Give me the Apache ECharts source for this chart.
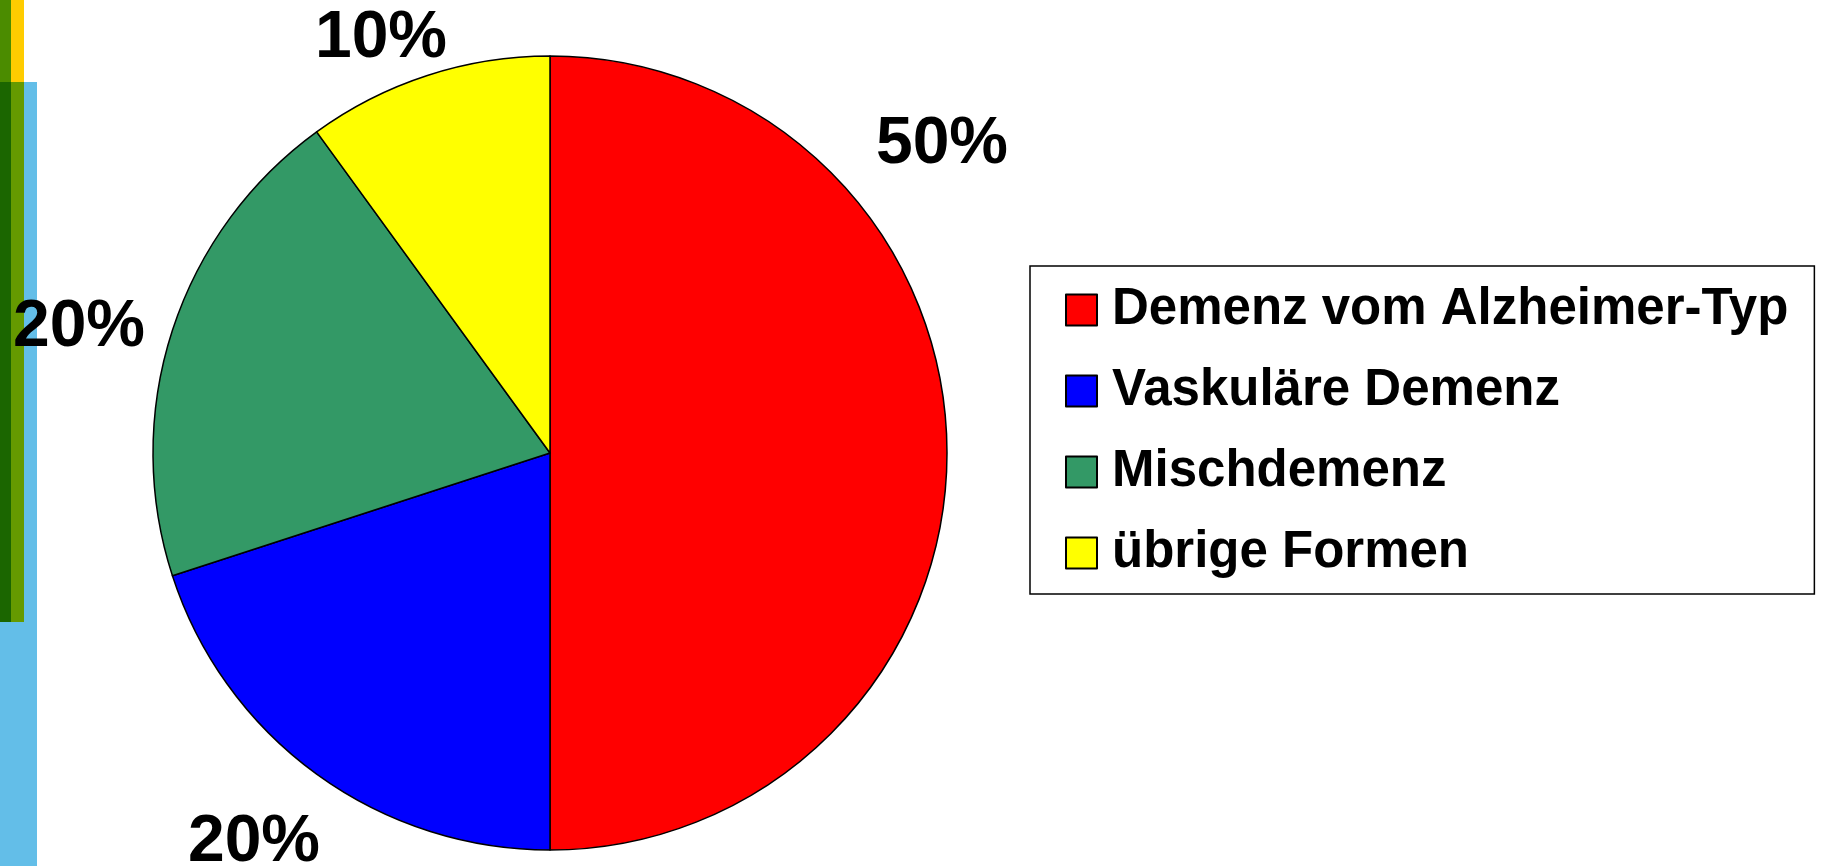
<!DOCTYPE html>
<html>
<head>
<meta charset="utf-8">
<script src="https://cdn.jsdelivr.net/npm/echarts@6/dist/echarts.min.js"></script>
<style>
  html, body { margin: 0; padding: 0; background: #fff; }
  #echartsMain { width: 1821px; height: 866px; }
</style>
</head>
<body>
<div id="echartsMain"></div>
<script>
// Daten
var categories = ['Demenz vom Alzheimer-Typ', 'Vaskuläre Demenz', 'Mischdemenz', 'übrige Formen'];
var values = [50, 20, 20, 10];
var colors = ['#ff0000', '#0000ff', '#339966', '#ffff00'];

// Lage der Prozent-Beschriftungen (Pixel)
var labelPos = [[942, 145], [254, 843], [79, 328], [381, 39]];

var fontFam = "'Liberation Sans', Arial, sans-serif";

var myChart = echarts.init(document.getElementById('echartsMain'));

var option = {
    backgroundColor: '#ffffff',
    animation: false,
    // Deko-Balken links
    graphic: [
        { type: 'rect', shape: { x: 0, y: 82, width: 37, height: 784 }, style: { fill: '#63bee8' } },
        { type: 'rect', shape: { x: 0, y: 0, width: 11, height: 82 }, style: { fill: '#4b8c00' } },
        { type: 'rect', shape: { x: 11, y: 0, width: 13, height: 82 }, style: { fill: '#ffcc00' } },
        { type: 'rect', shape: { x: 0, y: 82, width: 11, height: 540 }, style: { fill: '#1b6600' } },
        { type: 'rect', shape: { x: 11, y: 82, width: 13, height: 540 }, style: { fill: '#659a00' } }
    ],
    legend: {
        orient: 'vertical',
        left: 1030,
        top: 266,
        padding: [18, 26, 15, 35],
        borderColor: '#000',
        borderWidth: 1.5,
        itemWidth: 31,
        itemHeight: 31,
        itemGap: 29,
        icon: 'rect',
        textStyle: {
            color: '#000',
            fontSize: 51,
            fontWeight: 'bold',
            fontFamily: fontFam,
            lineHeight: 52,
            padding: [0, 0, 0, 10]
        },
        data: categories
    },
    series: [
        {
            name: 'Demenz',
            type: 'pie',
            radius: 397,
            center: [550, 453],
            startAngle: 90,
            clockwise: true,
            itemStyle: { borderColor: '#000', borderWidth: 1.5 },
            label: {
                show: true,
                position: 'outside',
                formatter: '{d}%',
                color: '#000',
                fontSize: 66,
                fontWeight: 'bold',
                fontFamily: fontFam,
                overflow: 'none'
            },
            labelLine: { show: false },
            labelLayout: function (params) {
                var p = labelPos[params.dataIndex];
                return { x: p[0], y: p[1], align: 'center', verticalAlign: 'middle' };
            },
            data: categories.map(function (c, i) {
                return { name: c, value: values[i], itemStyle: { color: colors[i] } };
            })
        }
    ]
};

myChart.setOption(option);
</script>
</body>
</html>
